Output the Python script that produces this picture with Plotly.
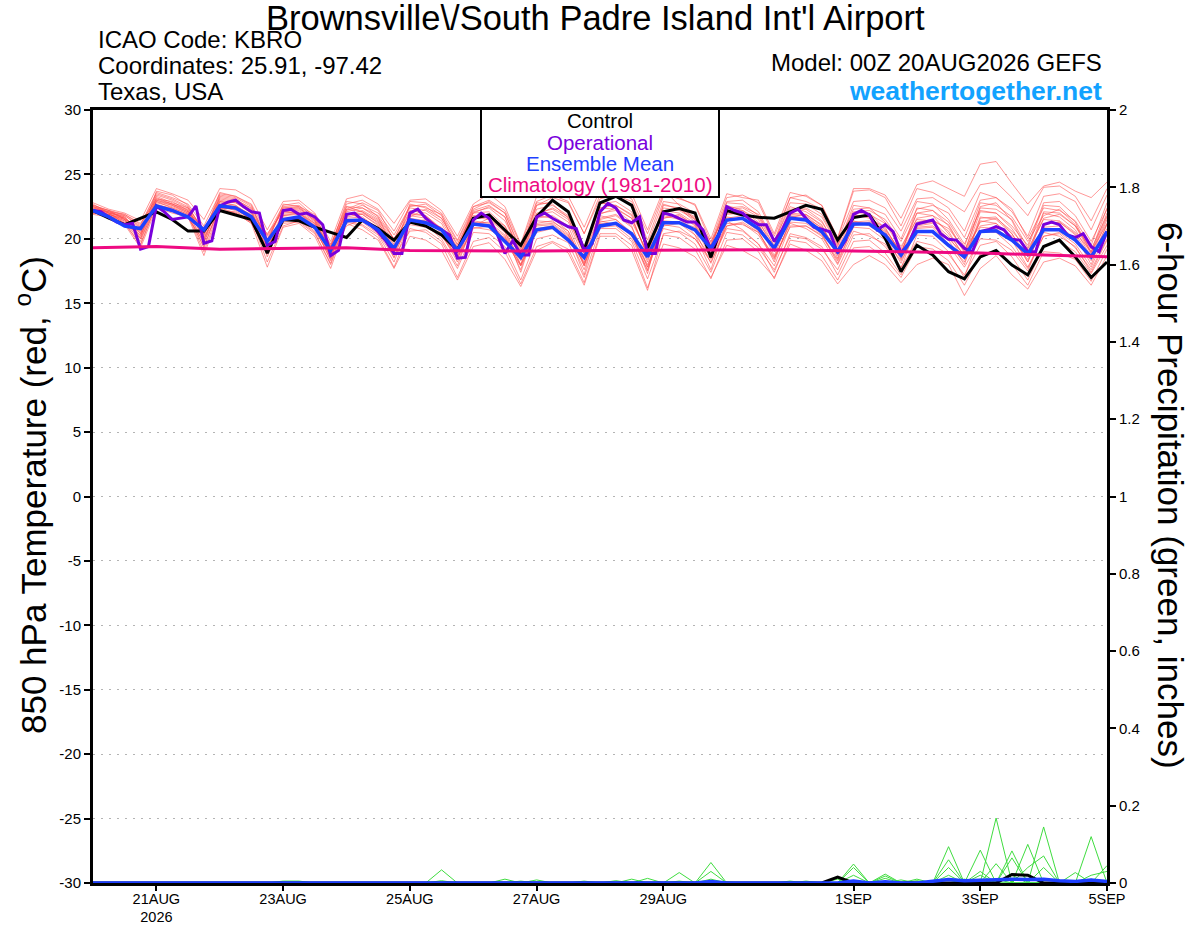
import plotly.graph_objects as go

# ---------------- time axes (hours after 00Z 20AUG2026) ----------------
HOURS_6H = list(range(0, 385, 6))
HOURS_3H = list(range(0, 385, 3))
CLIM_HOURS = list(range(0, 385, 24))

X_TICK_HOURS = [24, 72, 120, 168, 216, 288, 336, 384]
X_TICK_LABELS = ["21AUG<br>2026", "23AUG", "25AUG", "27AUG", "29AUG", "1SEP", "3SEP", "5SEP"]
T_TICKS = [-30, -25, -20, -15, -10, -5, 0, 5, 10, 15, 20, 25, 30]
P_TICKS = [0, 0.2, 0.4, 0.6, 0.8, 1.0, 1.2, 1.4, 1.6, 1.8, 2.0]
P_TICK_LABELS = ["0", "0.2", "0.4", "0.6", "0.8", "1", "1.2", "1.4", "1.6", "1.8", "2"]

# ---------------- 850 hPa temperature (C) ----------------
CONTROL_T = [22.2, 21.6, 21.1, 21.6, 22.1, 21.5, 20.6, 20.6, 22.2, 21.85, 21.5, 18.9, 21.5, 21.4, 20.9, 20.5, 20.1,
             21.46, 20.8, 19.9, 21.3, 21.0, 20.3, 19.13, 21.6, 21.85, 20.7, 19.5, 21.7, 23.0, 22.1, 19.13, 22.8,
             23.3, 22.6, 19.3, 22.1, 22.35, 22.0, 18.56, 22.2, 21.85, 21.67, 21.6, 22.1, 22.6, 22.3, 19.9,
             21.65, 21.85, 20.04, 17.45, 19.5, 18.75, 17.45, 16.9, 18.6, 19.1, 17.97, 17.2, 19.4, 19.9, 18.6, 17.0, 18.2]

OPERATIONAL_T = [22.2, 22.1, 21.7, 21.3, 21.1, 21.2, 19.2, 19.4,
                 22.55, 22.1, 21.5, 21.6, 21.7, 22.55, 19.65, 19.85,
                 22.55, 22.85, 23.0, 22.5, 22.1, 22.0, 19.5, 19.8,
                 22.2, 22.3, 21.9, 22.0, 21.7, 21.1, 18.7, 19.1,
                 21.9, 22.0, 21.46, 21.1, 20.55, 19.8, 18.87, 18.87,
                 22.0, 22.3, 21.6, 21.1, 20.7, 20.3, 18.5, 18.56,
                 21.46, 22.0, 21.6, 20.4, 18.87, 19.85, 18.75, 18.75,
                 21.7, 22.0, 21.6, 21.3, 20.94, 20.8, 19.13, 19.6,
                 22.1, 22.75, 22.4, 21.46, 21.25, 21.7, 18.87, 18.87,
                 22.0, 21.85, 21.6, 21.3, 21.3, 20.7, 19.13, 20.2,
                 22.5, 22.2, 22.0, 21.46, 21.1, 21.1, 19.8, 20.7,
                 22.0, 22.3, 21.6, 20.9, 20.75, 20.55, 18.9, 19.9,
                 21.9, 22.2, 21.85, 20.7, 21.1, 20.56, 18.9, 19.65,
                 21.15, 21.3, 21.46, 20.4, 19.96, 19.9, 19.26, 19.0,
                 20.56, 20.7, 20.94, 20.7, 19.96, 19.9, 19.0, 19.0,
                 21.1, 21.3, 21.1, 20.3, 20.1, 20.4, 19.4, 19.0,
                 20.56]

ENS_MEAN_T = [22.2, 21.7, 21.0, 20.8, 22.55, 22.2, 21.7, 20.7, 22.55, 22.4, 21.7, 19.8, 21.5, 21.7, 20.9, 19.1, 21.4,
              21.46, 20.7, 19.26, 21.46, 21.25, 20.7, 19.13, 21.15, 21.0, 19.8, 18.56, 20.7, 20.9, 19.9, 18.56, 21.0,
              21.2, 20.4, 18.6, 21.25, 21.25, 20.7, 19.26, 21.46, 21.6, 20.8, 19.26, 21.6, 21.46, 20.55, 19.0,
              21.15, 21.15, 20.3, 18.75, 20.56, 20.56, 19.5, 18.6, 20.56, 20.63, 19.9, 18.82, 20.7, 20.7, 19.9, 18.6, 20.56]

CLIMATOLOGY_T = [19.3, 19.4, 19.2, 19.25, 19.3, 19.1, 19.05, 19.05, 19.1, 19.1, 19.15, 19.15, 19.05, 19.0, 18.9, 18.75, 18.6]

MEM01 = [22.6, 22.2, 21.8, 21.0, 23.5, 23.1, 22.5, 20.6, 23.2, 23.0, 22.4, 20.2, 22.3, 22.4, 21.5, 19.5,
         22.2, 22.6, 22.0, 20.3, 22.5, 22.7, 21.8, 19.8, 22.3, 22.9, 22.0, 19.2, 22.6, 23.2, 22.8, 20.4,
         23.4, 23.7, 23.1, 20.4, 23.5, 23.1, 22.7, 20.0, 23.5, 23.2, 23.0, 20.4, 23.6, 23.3, 22.6, 20.1,
         23.9, 23.9, 23.4, 21.6, 24.2, 24.5, 23.9, 23.3, 25.8, 26.0, 24.3, 22.7, 24.1, 24.4, 23.7, 23.2, 24.4]
MEM02 = [22.0, 21.8, 21.2, 19.6, 22.6, 22.2, 21.8, 19.0, 22.4, 22.3, 21.5, 18.2, 21.0, 21.4, 20.5, 18.0,
         21.3, 21.0, 20.1, 17.8, 20.8, 20.5, 19.6, 17.0, 19.8, 20.1, 19.0, 16.5, 19.4, 19.8, 19.2, 16.6,
         20.4, 20.4, 19.5, 16.2, 19.6, 19.3, 18.6, 17.0, 19.5, 19.1, 18.4, 17.0, 19.6, 19.1, 18.3, 16.5,
         18.0, 18.7, 18.0, 16.6, 18.0, 18.5, 18.0, 15.6, 17.7, 18.7, 17.2, 16.1, 18.2, 18.5, 17.9, 16.4, 18.7]
MEM03 = [22.8, 22.3, 22.0, 21.4, 23.9, 23.5, 23.0, 21.5, 23.9, 23.8, 23.1, 20.7, 22.9, 23.0, 22.0, 19.8,
         23.1, 23.4, 22.7, 21.2, 23.0, 23.1, 22.2, 20.2, 22.7, 23.5, 22.5, 19.6, 23.3, 23.8, 23.3, 20.9,
         23.8, 24.0, 23.5, 20.7, 23.8, 22.6, 21.5, 19.8, 22.0, 21.9, 21.0, 19.3, 21.9, 21.8, 20.8, 19.2,
         21.3, 21.4, 20.5, 19.0, 21.0, 21.2, 20.0, 18.8, 21.3, 21.6, 20.6, 19.2, 21.5, 21.4, 20.5, 19.0, 21.2]
MEM04 = [21.9, 21.7, 21.1, 19.3, 22.4, 22.0, 21.7, 18.7, 22.2, 22.0, 21.2, 17.8, 20.9, 21.2, 20.2, 17.7,
         21.2, 20.7, 19.9, 17.7, 20.2, 19.9, 19.1, 16.8, 19.4, 19.7, 18.4, 16.3, 19.1, 19.7, 18.9, 16.4,
         20.2, 20.2, 19.1, 16.0, 20.4, 20.6, 20.0, 18.4, 21.0, 21.3, 20.5, 18.5, 21.2, 20.8, 20.0, 18.0,
         20.6, 20.2, 19.6, 17.8, 19.8, 19.5, 18.8, 17.2, 19.5, 19.8, 18.6, 16.8, 19.4, 19.8, 19.0, 17.3, 19.5]
MEM05 = [22.3, 21.9, 21.4, 20.6, 22.8, 22.5, 22.0, 20.5, 22.9, 22.6, 21.8, 19.6, 21.8, 21.9, 21.0, 18.9,
         21.6, 21.7, 20.8, 19.3, 21.5, 21.3, 20.9, 19.2, 21.4, 21.2, 20.0, 18.4, 20.8, 21.0, 20.1, 18.5,
         21.3, 21.5, 20.5, 18.4, 21.4, 21.3, 20.9, 19.1, 21.6, 21.8, 21.1, 19.1, 21.8, 21.6, 20.7, 18.8,
         21.3, 21.2, 20.3, 18.5, 20.8, 20.9, 19.6, 18.2, 20.9, 20.8, 19.9, 18.4, 20.9, 21.0, 20.0, 18.3, 20.8]
MEM06 = [22.5, 22.0, 21.7, 20.2, 23.2, 22.7, 22.3, 20.0, 22.6, 22.3, 21.5, 19.0, 22.1, 22.2, 21.3, 19.0,
         22.5, 22.1, 21.4, 19.6, 22.2, 22.0, 21.2, 18.9, 22.1, 22.4, 21.4, 18.9, 22.0, 22.3, 21.5, 18.9,
         22.4, 22.3, 21.6, 18.8, 22.7, 22.3, 21.6, 19.5, 22.4, 22.5, 21.9, 19.8, 22.5, 22.1, 21.3, 19.4,
         22.6, 22.4, 21.9, 20.0, 22.9, 22.7, 21.5, 19.6, 22.2, 22.0, 21.0, 19.5, 22.8, 22.9, 21.8, 19.8, 22.3]
MEM07 = [22.1, 21.9, 21.5, 20.0, 23.0, 22.6, 22.0, 19.6, 23.3, 23.1, 22.3, 18.6, 21.5, 21.6, 20.8, 18.4,
         21.9, 21.9, 21.0, 18.5, 21.8, 21.6, 20.4, 18.2, 21.0, 21.6, 20.6, 17.4, 21.2, 21.4, 20.4, 17.2,
         21.8, 21.5, 20.4, 17.3, 22.0, 21.7, 20.3, 17.6, 21.4, 20.7, 19.6, 17.4, 20.4, 20.1, 19.4, 17.2,
         19.8, 19.9, 18.9, 17.2, 20.3, 20.2, 19.0, 17.0, 20.5, 20.5, 19.4, 17.7, 20.2, 20.4, 19.3, 17.6, 20.0]
MEM08 = [22.4, 22.1, 21.9, 21.1, 23.6, 23.2, 22.7, 21.0, 23.5, 23.3, 22.7, 20.3, 22.6, 22.8, 21.7, 19.4,
         22.7, 23.0, 22.3, 20.6, 22.9, 22.8, 22.0, 19.9, 22.5, 23.0, 22.2, 19.5, 22.9, 23.4, 22.9, 20.4,
         23.1, 23.4, 22.9, 19.9, 23.3, 23.2, 22.6, 19.7, 23.2, 23.4, 22.8, 20.2, 23.2, 22.9, 22.3, 19.9,
         22.9, 23.0, 22.4, 20.6, 23.1, 23.2, 22.4, 20.6, 23.6, 23.2, 22.1, 20.2, 23.3, 23.5, 22.9, 20.7, 23.4]
MEM09 = [22.2, 21.8, 21.3, 19.8, 22.9, 22.4, 21.9, 19.3, 22.7, 22.5, 21.6, 19.2, 22.0, 22.1, 21.2, 18.6,
         21.8, 22.2, 21.5, 19.8, 22.0, 21.8, 20.8, 19.4, 21.8, 21.9, 20.8, 18.0, 21.6, 21.8, 21.0, 18.0,
         21.6, 21.9, 21.0, 17.8, 21.1, 20.9, 20.0, 18.2, 20.8, 20.6, 19.6, 17.9, 21.0, 21.0, 20.3, 18.4,
         21.8, 21.7, 20.7, 19.0, 21.6, 21.8, 20.4, 18.7, 22.1, 22.0, 20.8, 18.9, 21.6, 21.9, 21.0, 19.2, 21.8]
MEM10 = [22.7, 22.0, 21.6, 20.4, 23.4, 23.0, 22.4, 20.3, 22.9, 22.8, 22.0, 19.9, 22.4, 22.5, 21.5, 19.2,
         22.1, 22.4, 21.8, 20.0, 21.7, 22.3, 21.6, 19.6, 22.0, 22.1, 21.0, 18.7, 22.3, 22.6, 21.8, 19.4,
         22.7, 22.9, 22.1, 19.2, 22.2, 22.0, 21.2, 18.8, 22.1, 22.2, 21.3, 19.5, 22.3, 22.4, 21.7, 19.5,
         22.3, 22.4, 21.3, 19.4, 21.5, 21.4, 20.8, 19.2, 21.0, 21.2, 19.9, 17.8, 20.2, 20.5, 19.6, 17.8, 20.6]
MEM11 = [22.0, 21.9, 21.5, 20.9, 22.5, 22.3, 21.7, 20.9, 22.3, 22.4, 21.4, 19.4, 21.3, 21.5, 20.6, 18.7,
         21.0, 21.5, 20.6, 18.9, 21.1, 20.9, 20.2, 18.5, 20.8, 21.0, 19.8, 17.9, 20.5, 20.8, 20.0, 18.1,
         20.9, 21.0, 20.0, 17.6, 21.0, 21.2, 20.3, 18.6, 21.2, 21.1, 20.5, 18.6, 20.9, 21.0, 20.2, 18.3,
         20.9, 20.8, 19.9, 18.3, 20.6, 20.6, 19.5, 17.8, 20.0, 19.9, 19.1, 17.5, 20.5, 20.2, 19.4, 17.4, 19.9]
MEM12 = [22.5, 22.1, 21.6, 20.7, 23.1, 22.9, 22.2, 20.2, 23.0, 22.8, 22.1, 19.3, 22.2, 22.3, 21.4, 19.1,
         22.3, 22.8, 22.2, 19.9, 22.6, 22.5, 21.6, 19.5, 22.2, 22.6, 21.7, 18.8, 22.6, 22.9, 22.1, 19.1,
         22.8, 22.6, 21.8, 18.6, 22.1, 22.4, 21.7, 19.4, 22.8, 22.7, 21.8, 19.7, 22.8, 22.7, 21.9, 19.6,
         22.1, 22.2, 21.5, 19.8, 22.3, 22.6, 22.0, 20.1, 23.0, 23.2, 22.3, 20.0, 22.4, 22.2, 21.4, 19.5, 22.8]
MEM13 = [22.3, 22.0, 21.2, 19.5, 22.7, 22.3, 21.8, 19.4, 22.5, 22.2, 21.3, 18.9, 21.7, 21.6, 20.9, 18.3,
         21.4, 21.1, 20.3, 18.2, 21.4, 21.1, 20.0, 17.9, 21.3, 21.1, 20.2, 17.6, 21.4, 21.3, 20.6, 17.9,
         21.1, 21.2, 20.2, 18.0, 20.8, 20.5, 19.6, 17.4, 20.5, 20.3, 19.3, 17.6, 20.2, 20.0, 19.2, 17.6,
         20.3, 20.4, 19.4, 17.7, 21.1, 21.3, 20.2, 18.4, 21.7, 21.5, 20.4, 18.2, 21.1, 21.3, 20.3, 18.0, 21.2]
MEM14 = [22.4, 22.0, 21.8, 20.9, 23.3, 22.8, 22.4, 20.7, 23.1, 22.9, 22.2, 20.0, 22.5, 22.6, 21.6, 19.6,
         22.5, 22.4, 21.6, 20.0, 22.4, 22.2, 21.4, 19.3, 22.0, 22.5, 21.7, 18.6, 21.9, 22.4, 21.7, 19.3,
         22.4, 22.6, 21.9, 19.6, 22.9, 22.7, 22.0, 19.5, 22.9, 23.0, 22.1, 19.8, 23.2, 23.4, 22.6, 20.0,
         23.7, 23.8, 23.2, 21.0, 23.9, 23.6, 22.9, 22.1, 24.2, 24.4, 23.2, 21.8, 24.0, 24.1, 23.3, 21.4, 23.9]
MEM15 = [22.2, 21.7, 21.1, 20.3, 22.6, 22.4, 21.9, 19.9, 22.8, 22.6, 21.7, 19.1, 21.9, 22.0, 21.1, 18.5,
         22.0, 21.6, 20.9, 18.9, 21.9, 21.8, 20.7, 18.4, 21.7, 21.5, 20.5, 18.3, 21.8, 21.6, 20.6, 17.9,
         21.4, 21.1, 20.4, 17.5, 21.6, 21.9, 21.0, 18.5, 21.7, 21.5, 20.6, 18.2, 21.5, 21.6, 20.9, 18.7,
         21.4, 21.0, 20.2, 18.1, 20.9, 21.0, 19.9, 18.0, 21.6, 21.7, 20.4, 18.6, 22.0, 21.7, 20.7, 18.6, 21.5]
MEM16 = [22.6, 22.2, 21.5, 20.1, 23.7, 23.4, 22.6, 20.4, 23.4, 23.2, 22.5, 19.7, 22.7, 22.5, 21.9, 19.3,
         22.9, 22.7, 21.7, 19.1, 22.7, 22.4, 21.9, 19.0, 22.5, 22.8, 22.0, 19.0, 22.8, 22.7, 21.6, 18.8,
         22.0, 22.2, 21.3, 19.0, 22.4, 22.2, 21.5, 19.3, 22.6, 22.2, 21.5, 19.0, 22.1, 22.3, 21.4, 19.2,
         22.0, 22.0, 20.8, 18.9, 22.0, 21.8, 21.1, 19.0, 22.4, 22.3, 21.5, 19.3, 22.6, 22.5, 21.3, 18.9, 22.0]
MEM17 = [22.1, 21.8, 21.4, 20.0, 22.5, 22.1, 21.6, 19.8, 22.2, 22.1, 21.3, 18.8, 21.2, 21.3, 20.4, 18.1,
         21.5, 21.3, 20.4, 18.6, 20.6, 20.7, 19.8, 17.7, 20.5, 20.4, 19.4, 16.8, 20.0, 20.3, 19.7, 17.0,
         20.8, 20.8, 19.8, 16.9, 20.3, 20.1, 19.2, 16.9, 19.9, 20.0, 19.0, 16.9, 19.9, 19.7, 18.7, 16.8,
         19.3, 19.4, 18.5, 17.0, 19.4, 19.2, 18.3, 16.4, 18.8, 19.1, 18.0, 16.4, 19.0, 18.9, 18.4, 16.7, 19.2]
MEM18 = [22.3, 22.1, 21.7, 20.5, 23.0, 22.7, 22.2, 20.4, 23.6, 23.3, 22.6, 19.8, 22.4, 22.4, 21.4, 18.8,
         22.3, 22.1, 21.2, 19.5, 21.2, 21.5, 20.6, 18.8, 21.6, 21.7, 21.0, 18.5, 21.9, 22.1, 21.3, 18.5,
         21.9, 22.4, 21.6, 18.7, 22.6, 22.4, 21.3, 19.1, 22.2, 22.4, 21.7, 19.4, 22.0, 21.9, 21.0, 18.9,
         21.9, 21.6, 20.9, 18.8, 22.4, 22.2, 21.3, 19.4, 22.8, 22.6, 21.7, 19.8, 21.8, 22.3, 21.1, 19.0, 22.4]
MEM19 = [22.5, 22.2, 21.9, 21.2, 23.1, 22.7, 22.1, 20.8, 22.6, 22.5, 21.9, 20.4, 22.1, 22.0, 21.2, 19.4,
         21.9, 22.0, 21.3, 19.2, 21.3, 21.0, 20.3, 18.6, 20.9, 20.7, 20.1, 18.0, 21.1, 21.2, 20.3, 18.2,
         21.5, 21.8, 20.9, 18.2, 21.8, 21.5, 20.6, 18.1, 21.0, 21.2, 20.3, 18.4, 21.3, 21.2, 20.4, 18.1,
         21.0, 21.3, 20.6, 18.4, 21.3, 21.5, 20.6, 18.5, 21.4, 21.2, 20.2, 18.2, 21.2, 21.3, 20.4, 18.5, 21.1]
MEM20 = [22.0, 21.9, 21.6, 20.4, 22.9, 22.6, 22.1, 20.1, 22.4, 22.0, 21.2, 19.0, 21.8, 22.0, 21.0, 18.8,
         21.7, 21.9, 21.1, 19.0, 21.6, 21.4, 20.8, 18.7, 21.2, 21.3, 20.3, 17.9, 21.0, 21.1, 20.2, 17.6,
         21.2, 21.2, 20.4, 17.8, 21.6, 21.8, 21.1, 18.8, 21.9, 22.0, 21.2, 18.7, 21.7, 21.9, 21.1, 18.5,
         21.6, 21.9, 21.2, 19.2, 22.0, 22.2, 21.0, 18.9, 22.5, 22.8, 21.4, 18.9, 22.1, 22.0, 21.0, 18.8, 21.7]

ENS_MEMBERS_T = [MEM01, MEM02, MEM03, MEM04, MEM05, MEM06, MEM07, MEM08, MEM09, MEM10,
                 MEM11, MEM12, MEM13, MEM14, MEM15, MEM16, MEM17, MEM18, MEM19, MEM20]

# ---------------- 6-hour precipitation (inches) ----------------
PCP01 = [0, 0, 0, 0, 0, 0, 0, 0, 0, 0, 0, 0, 0,
         0, 0, 0, 0, 0, 0, 0, 0, 0, 0.034, 0, 0, 0,
         0, 0, 0, 0, 0, 0, 0, 0, 0, 0, 0, 0.027, 0,
         0, 0, 0, 0, 0, 0, 0, 0, 0, 0.049, 0, 0, 0,
         0, 0, 0.094, 0, 0, 0.168, 0, 0, 0.04, 0, 0, 0, 0]
PCP02 = [0, 0, 0, 0, 0, 0, 0, 0, 0, 0, 0, 0, 0,
         0, 0, 0, 0, 0, 0, 0, 0, 0, 0, 0, 0, 0,
         0.01, 0, 0, 0, 0, 0, 0, 0, 0, 0, 0, 0, 0,
         0.053, 0, 0, 0, 0, 0, 0, 0, 0, 0, 0, 0.023, 0,
         0, 0, 0.06, 0, 0.085, 0, 0.02, 0, 0, 0, 0, 0.12, 0]
PCP03 = [0, 0, 0, 0, 0, 0, 0, 0, 0, 0, 0, 0, 0.005,
         0.005, 0, 0, 0, 0, 0, 0, 0, 0, 0, 0, 0, 0,
         0, 0, 0, 0, 0, 0, 0, 0, 0, 0, 0, 0, 0,
         0.03, 0, 0, 0, 0, 0, 0, 0, 0, 0.04, 0, 0, 0,
         0.01, 0, 0, 0, 0.03, 0, 0.083, 0, 0.145, 0, 0.027, 0, 0]
PCP04 = [0, 0, 0, 0, 0, 0, 0, 0, 0, 0, 0, 0, 0,
         0, 0, 0, 0, 0, 0, 0, 0, 0, 0, 0, 0, 0,
         0, 0, 0.008, 0, 0, 0, 0, 0, 0, 0.012, 0, 0, 0,
         0, 0, 0, 0, 0, 0.005, 0, 0, 0, 0, 0, 0.018, 0,
         0, 0, 0.04, 0, 0, 0.05, 0, 0.1, 0, 0, 0, 0, 0.045]
PCP05 = [0, 0, 0, 0, 0, 0, 0, 0, 0, 0, 0, 0, 0,
         0, 0, 0, 0, 0, 0, 0, 0, 0, 0, 0, 0, 0,
         0, 0, 0, 0, 0, 0, 0, 0.006, 0, 0, 0, 0, 0,
         0.01, 0, 0, 0, 0, 0, 0.005, 0, 0, 0.02, 0, 0, 0.008,
         0, 0, 0, 0.01, 0, 0, 0.065, 0, 0, 0, 0, 0.02, 0.03]
PCP06 = [0, 0, 0, 0, 0, 0, 0, 0, 0, 0, 0, 0, 0,
         0, 0, 0, 0, 0, 0, 0, 0, 0, 0, 0, 0, 0,
         0, 0, 0, 0, 0, 0.005, 0, 0, 0, 0, 0, 0.005, 0,
         0, 0, 0, 0, 0, 0, 0, 0, 0.01, 0, 0, 0.012, 0,
         0, 0, 0.02, 0, 0.02, 0, 0, 0.04, 0.07, 0, 0, 0, 0]
PCP07 = [0, 0, 0, 0, 0, 0, 0, 0, 0, 0, 0, 0, 0,
         0, 0, 0, 0, 0, 0, 0, 0, 0, 0.006, 0, 0, 0,
         0, 0, 0, 0, 0, 0, 0, 0, 0.01, 0, 0, 0, 0,
         0, 0, 0, 0, 0, 0, 0, 0, 0, 0, 0, 0, 0,
         0, 0.005, 0, 0.005, 0, 0.01, 0, 0, 0, 0, 0.005, 0, 0]
PCP08 = [0, 0, 0, 0, 0, 0, 0, 0, 0, 0, 0, 0, 0,
         0, 0, 0, 0, 0, 0, 0, 0, 0, 0, 0, 0, 0,
         0, 0.005, 0, 0, 0, 0, 0, 0, 0, 0, 0, 0, 0,
         0, 0.003, 0, 0, 0, 0, 0, 0, 0, 0, 0, 0, 0,
         0.006, 0, 0, 0, 0.01, 0, 0, 0, 0, 0.003, 0, 0.01, 0]
ENS_MEMBERS_P = [PCP01, PCP02, PCP03, PCP04, PCP05, PCP06, PCP07, PCP08]

CONTROL_P = [0, 0, 0, 0, 0, 0, 0, 0, 0, 0, 0, 0, 0,
             0, 0, 0, 0, 0, 0, 0, 0, 0, 0, 0, 0, 0,
             0, 0, 0, 0, 0, 0, 0, 0, 0, 0, 0, 0, 0,
             0, 0, 0, 0, 0, 0, 0, 0, 0.015, 0, 0, 0, 0,
             0, 0, 0, 0, 0, 0, 0.022, 0.02, 0, 0, 0, 0.004, 0]
ENS_MEAN_P = [0, 0, 0, 0, 0, 0, 0, 0, 0, 0, 0, 0, 0,
              0, 0, 0, 0, 0, 0, 0, 0, 0, 0.002, 0, 0, 0,
              0, 0, 0, 0, 0, 0, 0, 0, 0, 0, 0, 0, 0,
              0.004, 0, 0, 0, 0, 0, 0, 0, 0, 0.005, 0, 0.003, 0,
              0, 0.004, 0.009, 0.006, 0.008, 0.009, 0.01, 0.009, 0.01, 0.006, 0.004, 0.008, 0.004]

# ---------------- styles ----------------
FONT = "Liberation Sans, Arial, sans-serif"
C_MEMBER = "rgba(255,70,70,0.7)"
C_GREEN = "#3fdc3f"
C_CONTROL = "#000000"
C_OPER = "#7a00dc"
C_MEAN = "#1e40ff"
C_CLIM = "#ee0a82"
C_SITE = "#12a2ff"

fig = go.Figure()

for mem in ENS_MEMBERS_T:
    fig.add_trace(go.Scatter(x=HOURS_6H, y=mem, mode="lines",
                             line=dict(color=C_MEMBER, width=0.8), hoverinfo="skip"))
for mem in ENS_MEMBERS_P:
    fig.add_trace(go.Scatter(x=HOURS_6H, y=mem, mode="lines", yaxis="y2",
                             line=dict(color=C_GREEN, width=1), hoverinfo="skip"))

fig.add_trace(go.Scatter(x=HOURS_6H, y=CONTROL_T, mode="lines", line=dict(color=C_CONTROL, width=3)))
fig.add_trace(go.Scatter(x=HOURS_3H, y=OPERATIONAL_T, mode="lines", line=dict(color=C_OPER, width=3)))
fig.add_trace(go.Scatter(x=HOURS_6H, y=ENS_MEAN_T, mode="lines", line=dict(color=C_MEAN, width=3.5)))
fig.add_trace(go.Scatter(x=CLIM_HOURS, y=CLIMATOLOGY_T, mode="lines", line=dict(color=C_CLIM, width=3)))
fig.add_trace(go.Scatter(x=HOURS_6H, y=CONTROL_P, mode="lines", yaxis="y2", line=dict(color=C_CONTROL, width=3)))
fig.add_trace(go.Scatter(x=HOURS_6H, y=ENS_MEAN_P, mode="lines", yaxis="y2", line=dict(color=C_MEAN, width=3.5)))

L, R, T, B = 93, 93, 110, 44
PW, PH = 1200 - L - R, 927 - T - B


def px(x):
    return (x - L) / PW


def py(y):
    return (927 - B - y) / PH


fig.update_layout(
    width=1200, height=927,
    margin=dict(l=L, r=R, t=T, b=B, pad=0, autoexpand=False),
    paper_bgcolor="white", plot_bgcolor="white",
    showlegend=False,
    font=dict(family=FONT, color="black", size=15),
    # axis that carries the frame and the outward tick marks
    xaxis=dict(range=[0, 384], tickvals=X_TICK_HOURS, showticklabels=False, automargin=False,
               ticks="outside", ticklen=5, tickwidth=1.5, tickcolor="black",
               showline=True, linewidth=2.5, linecolor="black", mirror=True,
               showgrid=False, zeroline=False),
    # same time scale, carrying only the date labels right under the frame
    xaxis2=dict(range=[0, 384], overlaying="x", anchor="y", side="bottom",
                tickvals=X_TICK_HOURS, ticktext=X_TICK_LABELS, automargin=False,
                ticks="", showline=False, showgrid=False, zeroline=False,
                ticklabelstandoff=5, tickfont=dict(size=14.5)),
    yaxis=dict(range=[-30, 30], tickvals=T_TICKS, ticktext=[str(v) for v in T_TICKS], automargin=False,
               ticks="outside", ticklen=6, tickwidth=1.5, tickcolor="black",
               showline=True, linewidth=3, linecolor="black",
               showgrid=True, gridcolor="#b4b4b4", gridwidth=1, griddash="2px,6px",
               zeroline=False, tickfont=dict(size=15)),
    yaxis2=dict(range=[0, 2], overlaying="y", side="right", tickvals=P_TICKS, ticktext=P_TICK_LABELS,
                automargin=False,
                ticks="outside", ticklen=6, tickwidth=1.5, tickcolor="black",
                showline=True, linewidth=3, linecolor="black",
                showgrid=False, zeroline=False, tickfont=dict(size=15)),
)

# invisible trace that activates the label-only time axis
fig.add_trace(go.Scatter(x=[0, 384], y=[None, None], xaxis="x2", yaxis="y", mode="lines",
                         hoverinfo="skip", showlegend=False))

# legend box (covers the lines beneath it)
fig.add_shape(type="rect", xref="paper", yref="paper",
              x0=px(481), x1=px(719), y0=py(197), y1=py(109),
              fillcolor="white", line=dict(color="black", width=2), layer="above")

ann = []
ann.append(dict(text="Brownsville\\/South Padre Island Int'l Airport", x=px(595), y=py(18),
                size=34.5, xanchor="center"))
ann.append(dict(text="ICAO Code: KBRO", x=px(96), y=py(40), size=24, xanchor="left"))
ann.append(dict(text="Coordinates: 25.91, -97.42", x=px(96), y=py(66), size=24, xanchor="left"))
ann.append(dict(text="Texas, USA", x=px(96), y=py(92), size=24, xanchor="left"))
ann.append(dict(text="Model: 00Z 20AUG2026 GEFS", x=px(1104), y=py(62), size=24, xanchor="right"))
ann.append(dict(text="<b>weathertogether.net</b>", x=px(1104), y=py(91), size=26.5, color=C_SITE,
                xanchor="right"))
ann.append(dict(text="Control", x=px(600), y=py(121), size=20.5, color=C_CONTROL, xanchor="center"))
ann.append(dict(text="Operational", x=px(600), y=py(142), size=20.5, color=C_OPER, xanchor="center"))
ann.append(dict(text="Ensemble Mean", x=px(600), y=py(163), size=20.5, color=C_MEAN, xanchor="center"))
ann.append(dict(text="Climatology (1981-2010)", x=px(600), y=py(185), size=20.5, color=C_CLIM,
                xanchor="center"))
ann.append(dict(text="850 hPa Temperature (red, <sup>o</sup>C)", x=px(31), y=py(495), size=35,
                textangle=-90, xanchor="center"))
ann.append(dict(text="6-hour Precipitation (green, inches)", x=px(1171), y=py(495), size=35,
                textangle=90, xanchor="center"))
for a in ann:
    fig.add_annotation(text=a["text"], x=a["x"], y=a["y"], xref="paper", yref="paper",
                       xanchor=a["xanchor"], yanchor="middle", showarrow=False,
                       textangle=a.get("textangle", 0),
                       font=dict(family=FONT, size=a["size"], color=a.get("color", "black")))

# remove the browser's default 8px page margin so the 1200x927 figure fills the window exactly
fig.write_html("out.html", config={"displayModeBar": False},
               post_script="document.body.style.margin='0px';document.body.style.padding='0px';")
